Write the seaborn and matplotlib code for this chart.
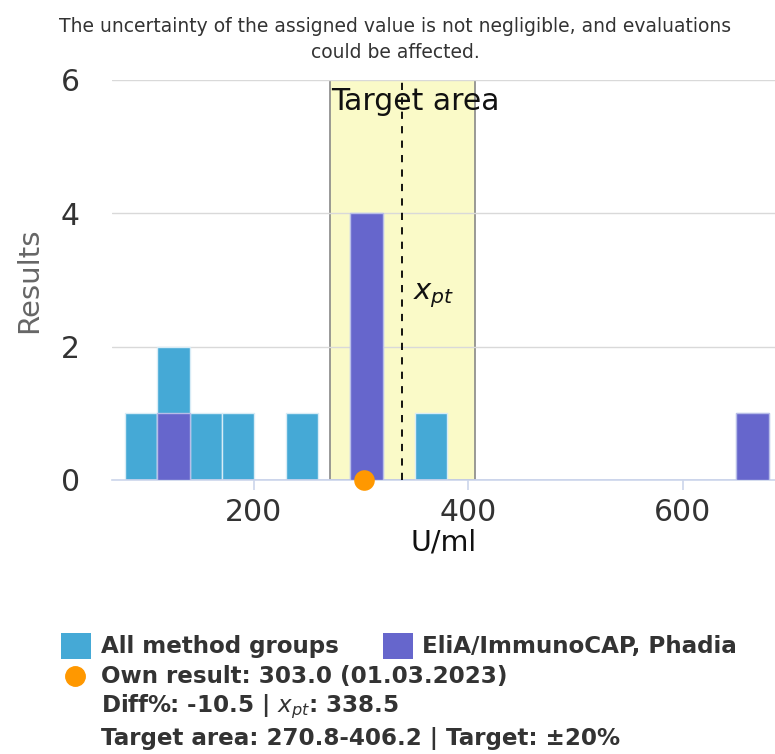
import numpy as np
import pandas as pd
import matplotlib
matplotlib.use("Agg")
import matplotlib.pyplot as plt
import seaborn as sns
from matplotlib.patches import Rectangle
from matplotlib.lines import Line2D

# ---- data ----
bin_edges = list(range(80, 681, 30))
all_bin_starts = [80, 110, 140, 170, 230, 290, 350, 650]
all_counts = [1, 2, 1, 1, 1, 4, 1, 1]
phadia_bin_starts = [110, 290, 650]
phadia_counts = [1, 4, 1]
own_result = 303.0
x_pt = 338.5
target_low, target_high = 270.8, 406.2
y_ticks = [0, 2, 4, 6]
x_ticks = [200, 400, 600]
title = "The uncertainty of the assigned value is not negligible, and evaluations\ncould be affected."

sns.set_theme(style="white")
plt.rcParams['font.family'] = ['DejaVu Sans']

fig = plt.figure(figsize=(7.75, 7.54), dpi=100)
ax = fig.add_axes([0.1445, 0.3634, 0.8555, 0.5305])

c_all = "#45a9d6"
c_ph = "#6666cc"

# target band
ax.axvspan(target_low, target_high, ymin=0, ymax=1, facecolor="#fafac8",
           edgecolor="#888888", linewidth=1.2, zorder=0)

df_all = pd.DataFrame({"x": [s + 15 for s in all_bin_starts], "w": all_counts})
df_ph = pd.DataFrame({"x": [s + 15 for s in phadia_bin_starts], "w": phadia_counts})
sns.histplot(data=df_all, x="x", weights="w", bins=bin_edges, color=c_all,
             alpha=1, edgecolor="#d8ecf6", linewidth=1, ax=ax, zorder=2)
sns.histplot(data=df_ph, x="x", weights="w", bins=bin_edges, color=c_ph,
             alpha=1, edgecolor="#b8bde8", linewidth=1, ax=ax, zorder=3)

ax.axvline(x_pt, color="black", linestyle=(0, (4, 4)), linewidth=1.3, zorder=4)
ax.scatter([own_result], [0], s=220, color="#ff9800", zorder=6, clip_on=False, linewidths=0)

ax.text(target_low + 1.5, 5.67, "Target area", fontsize=21.5, va="center", ha="left", color="#111111", zorder=5)
ax.text(348, 2.77, r"$x_{pt}$", fontsize=21, va="center", ha="left", color="#111111", zorder=5)

ax.set_xlim(67.6, 686)
ax.set_ylim(0, 6)
ax.set_yticks(y_ticks)
ax.set_xticks(x_ticks)
ax.yaxis.grid(True, color="#d9d9d9", linewidth=1)
ax.set_axisbelow(True)
for s in ["top", "right", "left"]:
    ax.spines[s].set_visible(False)
ax.spines["bottom"].set_color("#ccd6eb")
ax.spines["bottom"].set_linewidth(1.2)
ax.tick_params(axis="x", colors="#ccd6eb", length=7.2, width=1.2, direction="out", labelcolor="#333333",
               labelsize=21.5, pad=6, bottom=True)
ax.tick_params(axis="y", length=0, labelcolor="#333333", labelsize=21.5, pad=23)
ax.set_xlabel("U/ml", fontsize=20.5, color="#111111", labelpad=1)
ax.set_ylabel("Results", fontsize=21, color="#666666", labelpad=13)

fig.text(0.51, 0.9475, title, ha="center", va="center", fontsize=13.5, color="#333333", linespacing=1.45)

# legend
def fy(py):
    return 1 - py / 754

def fx(px):
    return px / 775

fig.patches.append(Rectangle((fx(61), fy(659)), fx(30), 26 / 754, transform=fig.transFigure,
                             facecolor=c_all, edgecolor="none"))
fig.patches.append(Rectangle((fx(383), fy(659)), fx(30), 26 / 754, transform=fig.transFigure,
                             facecolor=c_ph, edgecolor="none"))
fig.lines.append(Line2D([fx(75)], [fy(676)], marker="o", markersize=14, color="#ff9800",
                        linestyle="none", transform=fig.transFigure))
kw = dict(fontsize=16.6, fontweight="bold", color="#333333", va="center", ha="left")
fig.text(fx(101), fy(646), "All method groups", **kw)
fig.text(fx(422), fy(646), "EliA/ImmunoCAP, Phadia", **kw)
fig.text(fx(101), fy(676), "Own result: 303.0 (01.03.2023)", **kw)
fig.text(fx(101), fy(707), r"Diff%: -10.5 | $x_{pt}$: 338.5", **kw)
fig.text(fx(101), fy(738), "Target area: 270.8-406.2 | Target: ±20%", **kw)

fig.savefig("out.png", dpi=100)
